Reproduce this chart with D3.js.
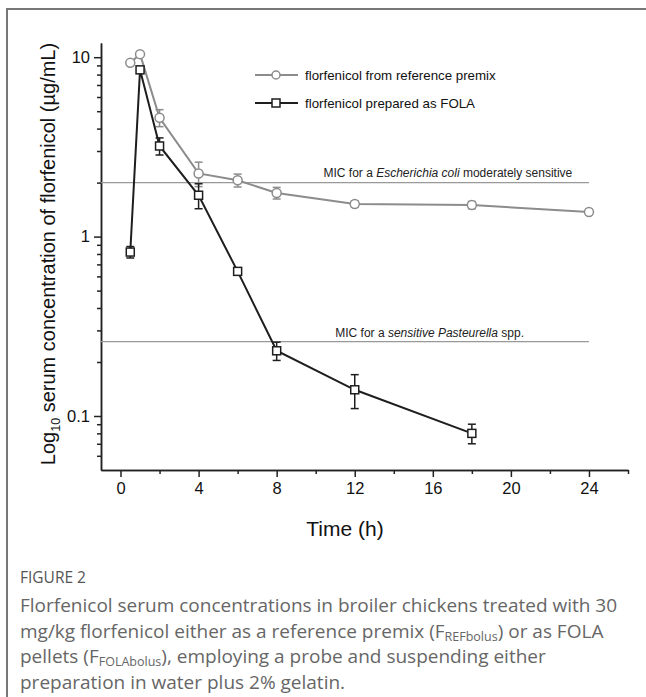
<!DOCTYPE html>
<meta charset="utf-8">
<style>
body{
  margin: 0px;
  background: white;
}
svg text{
  font-family: "Liberation Sans", Arial, sans-serif;
}
.caption{
  font-family: "Open Sans", "Noto Sans", sans-serif !important;
}
</style>
<body>
<div id="chart"></div>
<script src="https://cdn.jsdelivr.net/npm/d3@7"></script>
<script>

var width = 646,
    height = 697

// time points (h)
var timesRef = [0.5, 1, 2, 4, 6, 8, 12, 18, 24]
var timesFola = [0.5, 1, 2, 4, 6, 8, 12, 18]

// mean serum concentration (ug/mL) and SD
var refMean = [9.3, 10.4, 4.6, 2.25, 2.06, 1.75, 1.52, 1.50, 1.37]
var refSd = [0.3, 0.3, 0.5, 0.35, 0.17, 0.13, 0.06, 0.07, 0.03]
var folaMean = [0.82, 8.5, 3.2, 1.70, 0.64, 0.231, 0.14, 0.080]
var folaSd = [0.06, 0.35, 0.35, 0.27, 0.03, 0.027, 0.03, 0.01]

// MIC reference lines
var micValues = [2, 0.26]
var micStart = [10.4, 11.0]

var xMajor = [0, 4, 8, 12, 16, 20, 24]
var xMinor = [2, 6, 10, 14, 18, 22, 26]
var yMajor = [0.1, 1, 10]
var yMinor = [0.06, 0.07, 0.08, 0.09, 0.2, 0.3, 0.4, 0.5, 0.6, 0.7, 0.8, 0.9,
              2, 3, 4, 5, 6, 7, 8, 9]

var legendLabels = ['florfenicol from reference premix', 'florfenicol prepared as FOLA']

var refColor = '#8c8c8c',
    folaColor = '#1e1e1e'

var svg = d3.select('#chart').append('svg')
    .attr('width', width)
    .attr('height', height)

// frame
svg.append('path')
    .attr('d', 'M7,697 L7,9 L646,9')
    .style('fill', 'none')
    .style('stroke', '#777')
    .style('stroke-width', 2)

var x = d3.scaleLinear().domain([-1, 26]).range([101, 628])
var y = d3.scaleLog().domain([0.05, 12]).range([470, 43])

// axes
function styleAxis(g){
  g.selectAll('path, line').style('stroke', '#222').style('stroke-width', 1.5)
  g.selectAll('text').style('font-size', '16.5px').style('fill', '#111')
}

svg.append('g')
    .attr('transform', 'translate(0,470)')
    .call(d3.axisBottom(x).tickValues(xMajor).tickSize(7).tickSizeOuter(0).tickPadding(5).tickFormat(d3.format('d')))
    .call(styleAxis)
svg.append('g')
    .attr('transform', 'translate(0,470)')
    .call(d3.axisBottom(x).tickValues(xMinor).tickSize(4).tickSizeOuter(0).tickFormat(''))
    .call(styleAxis)

svg.append('g')
    .attr('transform', 'translate(101,0)')
    .call(d3.axisLeft(y).tickValues(yMajor).tickSize(7).tickSizeOuter(0).tickPadding(4).tickFormat(d3.format('~g')))
    .call(styleAxis)
svg.append('g')
    .attr('transform', 'translate(101,0)')
    .call(d3.axisLeft(y).tickValues(yMinor).tickSize(4).tickSizeOuter(0).tickFormat(''))
    .call(styleAxis)

// axis titles
var yTitle = svg.append('text')
    .attr('transform', 'translate(55,' + 254 + ') rotate(-90)')
    .attr('text-anchor', 'middle')
    .style('font-size', '20px')
    .style('fill', '#111')
yTitle.append('tspan').text('Log')
yTitle.append('tspan').attr('dy', 5).style('font-size', '12.5px').text('10')
yTitle.append('tspan').attr('dy', -5).text(' serum concentration of florfenicol (\u00b5g/mL)')

svg.append('text')
    .attr('x', 345).attr('y', 536)
    .attr('text-anchor', 'middle')
    .style('font-size', '21px')
    .style('fill', '#111')
    .text('Time (h)')

// MIC lines
micValues.forEach(function(v){
  svg.append('line')
      .attr('x1', x(-1)).attr('x2', x(24))
      .attr('y1', y(v)).attr('y2', y(v))
      .style('stroke', '#999')
      .style('stroke-width', 1.2)
})

var mic1 = svg.append('text')
    .attr('x', x(micStart[0])).attr('y', y(micValues[0]) - 6)
    .style('font-size', '12px').style('fill', '#222')
mic1.append('tspan').text('MIC for a ')
mic1.append('tspan').style('font-style', 'italic').text('Escherichia coli')
mic1.append('tspan').text(' moderately sensitive')

var mic2 = svg.append('text')
    .attr('x', x(micStart[1])).attr('y', y(micValues[1]) - 5)
    .style('font-size', '12px').style('fill', '#222')
mic2.append('tspan').text('MIC for a ')
mic2.append('tspan').style('font-style', 'italic').text('sensitive Pasteurella')
mic2.append('tspan').text(' spp.')

// series
var line = d3.line()
    .x(function(d){ return x(d.t) })
    .y(function(d){ return y(d.m) })

function series(times, mean, sd, color, shape){
  var data = times.map(function(t, i){ return {t: t, m: mean[i], sd: sd[i]} })
  var g = svg.append('g')

  g.append('path')
      .datum(data)
      .attr('d', line)
      .style('fill', 'none')
      .style('stroke', color)
      .style('stroke-width', 2)

  var eb = g.selectAll('.eb').data(data).enter().append('g')
  eb.append('line')
      .attr('x1', function(d){ return x(d.t) }).attr('x2', function(d){ return x(d.t) })
      .attr('y1', function(d){ return y(d.m + d.sd) }).attr('y2', function(d){ return y(d.m - d.sd) })
  eb.append('line')
      .attr('x1', function(d){ return x(d.t) - 4 }).attr('x2', function(d){ return x(d.t) + 4 })
      .attr('y1', function(d){ return y(d.m + d.sd) }).attr('y2', function(d){ return y(d.m + d.sd) })
  eb.append('line')
      .attr('x1', function(d){ return x(d.t) - 4 }).attr('x2', function(d){ return x(d.t) + 4 })
      .attr('y1', function(d){ return y(d.m - d.sd) }).attr('y2', function(d){ return y(d.m - d.sd) })
  eb.selectAll('line').style('stroke', color).style('stroke-width', 1.5)

  if(shape == 'circle'){
    g.selectAll('circle').data(data).enter().append('circle')
        .attr('cx', function(d){ return x(d.t) })
        .attr('cy', function(d){ return y(d.m) })
        .attr('r', 4.5)
        .style('fill', 'white').style('stroke', color).style('stroke-width', 1.5)
  } else {
    g.selectAll('rect').data(data).enter().append('rect')
        .attr('x', function(d){ return x(d.t) - 4 })
        .attr('y', function(d){ return y(d.m) - 4 })
        .attr('width', 8).attr('height', 8)
        .style('fill', 'white').style('stroke', color).style('stroke-width', 1.5)
  }
}

series(timesRef, refMean, refSd, refColor, 'circle')
series(timesFola, folaMean, folaSd, folaColor, 'square')

// legend
var legend = svg.append('g')
legendLabels.forEach(function(label, i){
  var ly = 75 + i * 28,
      c = i == 0 ? refColor : folaColor
  legend.append('line')
      .attr('x1', 255).attr('x2', 298).attr('y1', ly).attr('y2', ly)
      .style('stroke', c).style('stroke-width', 2)
  if(i == 0){
    legend.append('circle').attr('cx', 276).attr('cy', ly).attr('r', 4)
        .style('fill', 'white').style('stroke', c).style('stroke-width', 1.5)
  } else {
    legend.append('rect').attr('x', 272).attr('y', ly - 4).attr('width', 8).attr('height', 8)
        .style('fill', 'white').style('stroke', c).style('stroke-width', 1.5)
  }
  legend.append('text')
      .attr('x', 305).attr('y', ly + 4.5)
      .style('font-size', '13.3px').style('fill', '#111')
      .text(label)
})

// caption
var cap = svg.append('g')
cap.append('text').attr('class', 'caption')
    .attr('x', 20).attr('y', 583)
    .style('font-size', '15.5px').style('fill', '#555').style('font-weight', 500)
    .text('FIGURE 2')

var capLines = [
  [['Florfenicol serum concentrations in broiler chickens treated with 30', 0]],
  [['mg/kg florfenicol either as a reference premix (F', 0], ['REFbolus', 1], [') or as FOLA', 0]],
  [['pellets (F', 0], ['FOLAbolus', 1], ['), employing a probe and suspending either', 0]],
  [['preparation in water plus 2% gelatin.', 0]]
]
capLines.forEach(function(parts, i){
  var t = cap.append('text').attr('class', 'caption')
      .attr('x', 20).attr('y', 612 + i * 25.5)
      .style('font-size', '19px').style('fill', '#666')
  parts.forEach(function(p, j){
    var s = t.append('tspan').text(p[0])
    if(p[1]) s.attr('dy', 3).style('font-size', '12.5px')
    else if(j > 0) s.attr('dy', -3)
  })
})

</script>
